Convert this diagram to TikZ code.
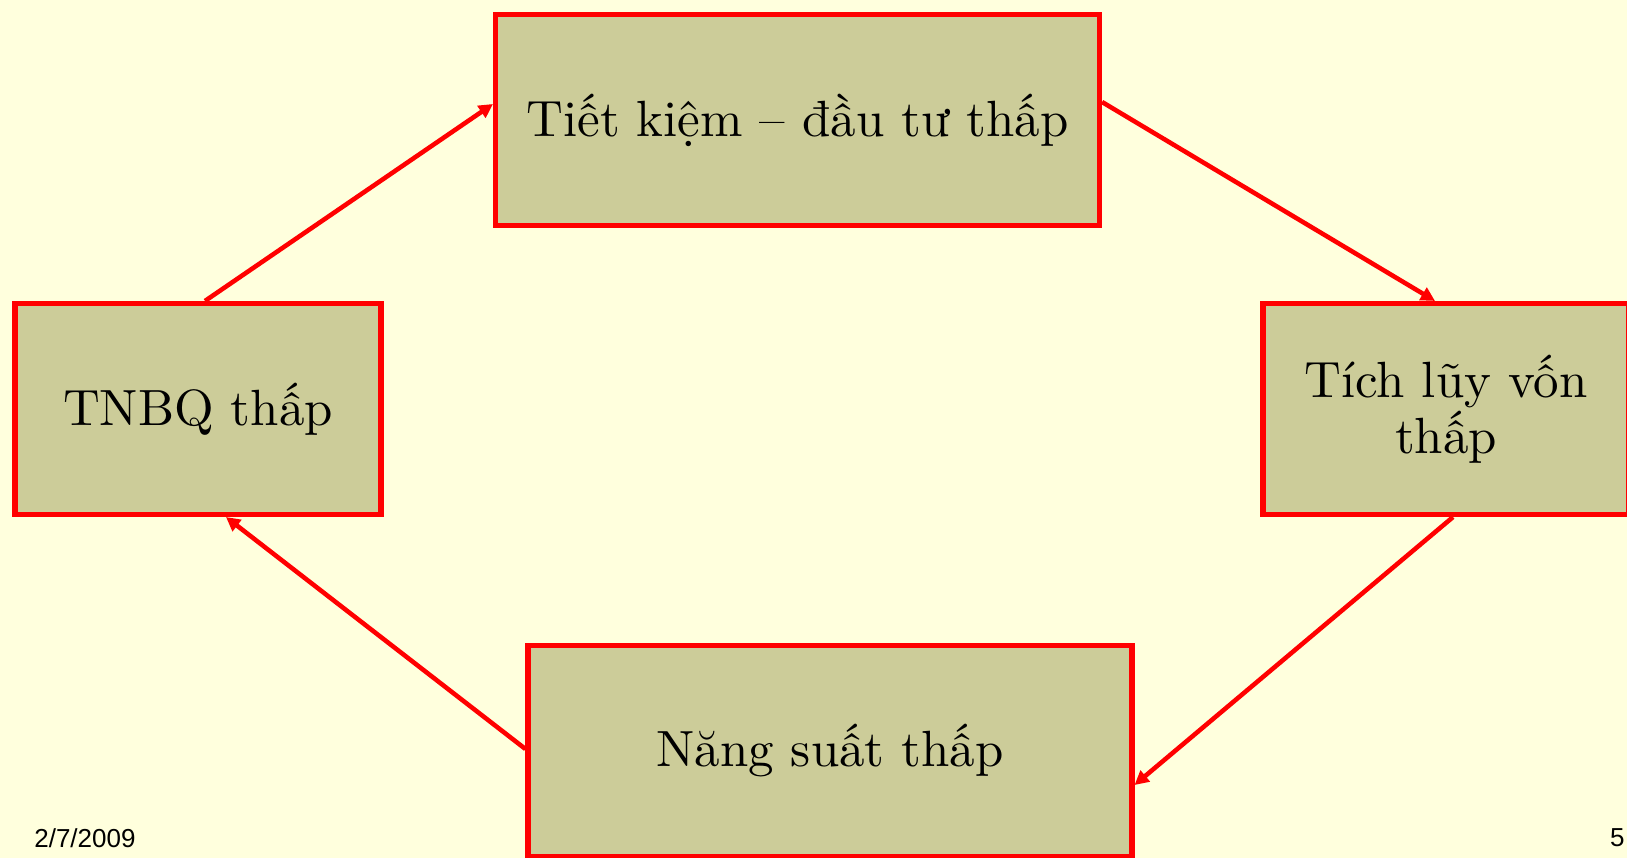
\documentclass[tikz,border=0pt]{standalone}
\usepackage{fontspec}
\newfontfamily\footfont{Liberation Sans}
\newfontfamily\boxfont{lmroman10-regular.otf}
\usetikzlibrary{arrows.meta,calc}
\definecolor{bgyellow}{HTML}{FFFFDD}
\definecolor{boxfill}{HTML}{CCCC99}
\definecolor{boxred}{HTML}{FF0000}
\tikzset{
  cyclebox/.style={draw=boxred, line width=2.9pt, fill=boxfill, rectangle, inner sep=0pt,
    font=\boxfont\fontsize{29}{32}\selectfont, align=center, text=black},
  cyclearrow/.style={draw=boxred, line width=2.6pt, -{Triangle[length=8pt,width=8pt]}},
  footnote/.style={font=\footfont\fontsize{14.8}{16}\selectfont, text=black, inner sep=0pt}
}
\begin{document}
\begin{tikzpicture}[x=0.02cm,y=-0.02cm]
\fill[bgyellow] (0,0) rectangle (1627,858);
\useasboundingbox (0,0) rectangle (1627,858);
\node[cyclebox, minimum width=604*0.02cm, minimum height=211*0.02cm] (top) at (797.5,120) {\raisebox{-0.1cm}{Tiết kiệm – đầu tư thấp}};
\node[cyclebox, minimum width=366*0.02cm, minimum height=211*0.02cm] (left) at (198,409) {\raisebox{-0.06cm}{TNBQ thấp}};
\node[cyclebox, minimum width=366*0.02cm, minimum height=211*0.02cm] (right) at (1446,409) {Tích lũy vốn\\thấp};
\node[cyclebox, minimum width=604*0.02cm, minimum height=211*0.02cm] (bottom) at (830,751) {Năng suất thấp};
\draw[cyclearrow] ([xshift=0.14cm]left.north) -- ([yshift=0.32cm]top.west);
\draw[cyclearrow] ([yshift=0.36cm]top.east) -- ([xshift=-0.22cm]right.north);
\draw[cyclearrow] ([xshift=0.14cm]right.south) -- ([yshift=-0.68cm]bottom.east);
\draw[cyclearrow] ([yshift=0.04cm]bottom.west) -- ([xshift=0.56cm]left.south);
\node[footnote, anchor=west] (date) at (34,838) {2/7/2009};
\node[footnote, anchor=east] (page) at (1625,838) {5};
\end{tikzpicture}
\end{document}
